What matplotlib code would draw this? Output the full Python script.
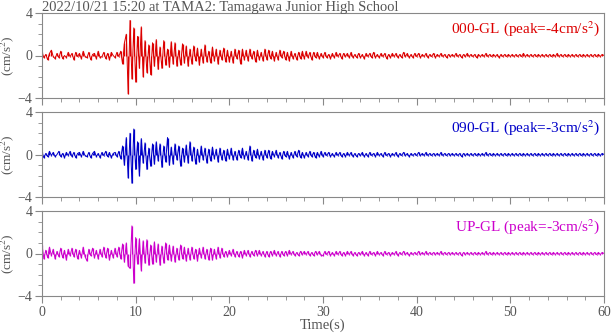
import numpy as np
import matplotlib.pyplot as plt
from matplotlib.ticker import MultipleLocator

# acceleration samples every 0.2 s, in units of 0.1 cm/s^2
dt = 0.2
ns_tenths = [
    3,-2,1,-4,2, 5,-1,-3,2,-2,   4,-3,0,-2,3, -1,2,-4,3,-1,
    2,-3,4,-1,-2, 3,-4,1,2,-3,   4,-2,-1,3,-3, 2,-4,3,0,-2,
    3,-1,4,-8,12, 20,-36,33,-22,26,
    -25,18,-12,27,-20, 14,-16,10,-18,12,   -10,15,-13,8,-12, 14,-9,6,-11,13,
    -8,12,-10,5,-9, 11,-7,9,-10,6,   -8,9,-5,7,-9, 6,-7,10,-6,4,
    -7,8,-5,6,-8, 5,-4,7,-6,5,
    -6,4,-7,6,-3, 5,-8,6,-4,5,   -5,6,-3,4,-6, 5,-4,3,-5,6,
    -4,5,-3,4,-5, 3,-4,5,-2,4,   -4,3,-5,4,-3, 2,-4,3,-3,4,
    -3,4,-2,3,-4, 3,-2,3,-3,2,
    -2,3,-2,1,-3, 2,-2,3,-1,2,   -3,2,-1,2,-2, 3,-2,1,-2,2,
    -2,1,-3,2,-1, 2,-2,3,-2,1,   -2,2,-1,2,-3, 1,-2,2,-1,2,
    -2,1,-2,3,-1, 2,-2,1,-2,2,
    -1,2,-2,1,-1, 2,-2,1,-1,2,   -2,1,-1,2,-1, 1,-2,1,-1,1,
    -1,2,-1,1,-2, 1,-1,2,-1,1,   -1,1,-2,1,-1, 1,-1,2,-1,1,
    -1,1,-1,1,-2, 1,-1,1,-1,1,
    -1,1,-1,1,-1, 1,-1,2,-1,1,   -1,1,-1,1,-1, 1,-1,1,-1,1,
    -1,1,-1,1,-1, 2,-1,1,-1,1,   -1,1,-1,1,-1, 1,-1,1,-1,1,
    -1,1,-1,1,-1, 1,-1,1,-1,1, 0,
]
ew_tenths = [
    2,-3,1,-2,3, -1,2,-2,0,3,   -2,1,-3,2,-1, 3,-2,2,-3,1,
    2,-2,3,-1,-2, 2,-3,1,3,-2,   1,-3,2,-1,3, -2,2,-3,1,2,
    -2,3,-4,8,-10, 16,-22,20,-27,24,
    -14,12,-20,15,-8, 11,-14,6,-11,10,   -9,12,-6,10,-12, 8,-7,16,-10,7,
    -9,10,-5,8,-11, 6,-7,9,-8,12,   -6,7,-9,5,-7, 8,-5,6,-8,5,
    -6,7,-4,5,-7, 6,-5,4,-6,5,
    -4,6,-5,3,-5, 4,-3,6,-4,3,   -5,8,-6,4,-3, 5,-4,3,-5,4,
    -3,4,-4,3,-2, 4,-3,2,-4,3,   -2,3,-4,2,-3, 3,-2,4,-3,2,
    -3,2,-2,3,-2, 2,-3,2,-2,3,
    -2,2,-1,2,-2, 1,-2,2,-1,2,   -2,1,-2,2,-1, 2,-2,1,-2,1,
    -1,2,-2,1,-2, 2,-1,1,-2,2,   -1,1,-2,2,-1, 1,-2,1,-1,2,
    -2,1,-1,2,-1, 1,-2,1,-1,1,
    -1,2,-1,1,-1, 2,-1,1,-1,1,   -1,1,-1,2,-1, 1,-1,1,-1,1,
    -1,1,-1,1,-2, 1,-1,1,-1,1,   -1,1,-1,1,-1, 1,-1,2,-1,1,
    -1,1,-1,1,-1, 1,-1,1,-1,1,
    -1,1,-1,1,-1, 1,-1,1,-1,1,   -1,1,-1,1,-1, 1,-1,1,-1,1,
    -1,1,-1,1,-1, 1,-1,1,-1,1,   -1,1,-1,1,-1, 1,-1,1,-1,1,
    -1,1,-1,1,-1, 1,-1,1,-1,1, 0,
]
ud_tenths = [
    8,-5,3,-4,6, -2,4,-5,2,-3,   5,-4,3,-6,4, -2,5,-3,4,-5,
    3,-4,6,-3,-7, 4,-2,5,-4,3,   -5,4,-3,6,-4, 5,-6,3,-4,5,
    -3,6,-5,9,-8, 10,-12,-14,26,-28,
    15,-10,14,-16,12, -9,13,-11,8,-10,   11,-8,9,-11,7, -9,10,-6,8,-7,
    7,-8,5,-6,8, -5,6,-7,5,-6,   6,-5,4,-7,5, -4,6,-5,4,-6,
    5,-6,4,-5,6, -4,5,-3,2,-3,
    3,-2,4,-3,2, -3,2,-4,3,-2,   3,-3,2,-2,3, -2,3,-2,2,-3,
    2,-3,2,-2,3, -2,2,-3,2,-2,   2,-2,3,-1,2, -2,1,-2,2,-1,
    2,-1,2,-2,1, -2,2,-1,2,-2,
    -2,2,-1,2,-2, 1,-2,2,-1,2,   -2,1,-2,2,-1, 2,-2,1,-2,1,
    -1,2,-2,1,-2, 2,-1,1,-2,2,   -1,1,-2,2,-1, 1,-2,1,-1,2,
    -2,1,-1,2,-1, 1,-2,1,-1,1,
    -1,2,-1,1,-1, 2,-1,1,-1,1,   -1,1,-1,2,-1, 1,-1,1,-1,1,
    -1,1,-1,1,-2, 1,-1,1,-1,1,   -1,1,-1,1,-1, 1,-1,2,-1,1,
    -1,1,-1,1,-1, 1,-1,1,-1,1,
    -1,1,-1,1,-1, 1,-1,1,-1,1,   -1,1,-1,1,-1, 1,-1,1,-1,1,
    -1,1,-1,1,-1, 1,-1,1,-1,1,   -1,1,-1,1,-1, 1,-1,1,-1,1,
    -1,1,-1,1,-1, 1,-1,1,-1,1, 0,
]
labels = ['000-GL (peak=-4cm/s$^2$)', '090-GL (peak=-3cm/s$^2$)', 'UP-GL (peak=-3cm/s$^2$)']
colors = ['#dc0000', '#0000c8', '#cc00cc']
title = '2022/10/21 15:20 at TAMA2: Tamagawa Junior High School'

plt.rcParams['font.family'] = ['Liberation Serif', 'DejaVu Serif']
plt.rcParams['mathtext.fontset'] = 'stix'

fig = plt.figure(figsize=(6.12, 3.34), dpi=100)
grey = '#888888'
tcol = '#555555'
tops = [13, 112, 211]
for k, vals in enumerate([ns_tenths, ew_tenths, ud_tenths]):
    y = np.array(vals) / 10.0
    t = np.arange(len(y)) * dt
    top = tops[k]
    ax = fig.add_axes([42/612, 1 - (top + 85)/334, 562/612, 85/334])
    # dense trace look: stems from zero plus the connecting line
    ax.vlines(t, 0, y, color=colors[k], lw=0.9)
    ax.plot(t, y, color=colors[k], lw=0.7)
    ax.set_xlim(0, 60)
    ax.set_ylim(-4, 4)
    ax.set_yticks([-4, 0, 4])
    ax.yaxis.set_minor_locator(MultipleLocator(1))
    ax.xaxis.set_major_locator(MultipleLocator(10))
    ax.xaxis.set_minor_locator(MultipleLocator(2))
    for s in ax.spines.values():
        s.set_color(grey)
    ax.tick_params(which='major', length=5, color=grey, labelcolor=tcol, labelsize=10, pad=2)
    ax.tick_params(which='minor', length=3, color=grey)
    if k < 2:
        ax.tick_params(axis='x', labelbottom=False)
    else:
        ax.set_xlabel('Time(s)', color=tcol, fontsize=10.5, labelpad=0)
    ax.set_ylabel('(cm/s$^2$)', color=tcol, fontsize=9.5)
    ax.yaxis.set_label_coords(-0.046, 0.5)
    ax.text(0.993, 0.93, labels[k], transform=ax.transAxes, ha='right', va='top',
            color=colors[k], fontsize=11)
    if k == 0:
        ax.text(0.0, 1 + 2/85, title, transform=ax.transAxes, ha='left', va='baseline',
                color=tcol, fontsize=10.5)

fig.savefig('out.png', dpi=100)
